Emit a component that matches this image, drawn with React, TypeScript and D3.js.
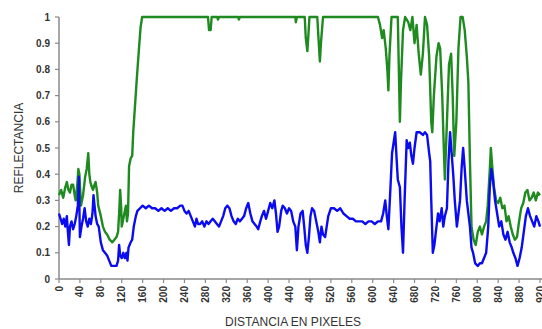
import React from 'react';
import * as d3 from 'd3';

// distancia (pixeles) y reflectancia
const greenDist = [0, 4, 8, 12, 15, 18, 21, 24, 27, 30, 32, 35, 37, 39, 42, 46, 50, 53, 56, 58, 60, 63, 65, 68, 70, 73, 75, 80, 84, 88, 92, 97, 102, 106, 110, 113, 115, 117, 119, 120, 123, 126, 128, 130, 132, 134, 137, 140, 142, 145, 149, 153, 156, 159, 285, 287, 290, 292, 303, 304, 306, 343, 344, 346, 452, 453, 455, 470, 472, 475, 477, 479, 494, 496, 499, 501, 503, 505, 610, 614, 618, 621, 625, 628, 630, 632, 636, 648, 650, 652, 654, 658, 662, 668, 672, 676, 680, 684, 688, 692, 696, 700, 704, 708, 712, 714, 717, 722, 726, 729, 733, 736, 738, 742, 746, 750, 753, 756, 760, 764, 768, 772, 776, 780, 783, 786, 789, 793, 797, 801, 805, 809, 813, 817, 820, 824, 826, 829, 832, 836, 840, 844, 848, 852, 856, 860, 864, 868, 872, 876, 880, 884, 888, 892, 896, 900, 904, 908, 912, 916, 920];
const greenVals = [0.32, 0.34, 0.31, 0.35, 0.37, 0.34, 0.33, 0.36, 0.36, 0.32, 0.3, 0.36, 0.42, 0.4, 0.28, 0.32, 0.39, 0.42, 0.48, 0.4, 0.37, 0.35, 0.34, 0.36, 0.37, 0.33, 0.28, 0.24, 0.2, 0.18, 0.17, 0.15, 0.14, 0.15, 0.16, 0.18, 0.25, 0.34, 0.27, 0.2, 0.23, 0.26, 0.28, 0.22, 0.25, 0.43, 0.46, 0.47, 0.56, 0.65, 0.77, 0.88, 0.96, 1, 1, 0.95, 0.95, 1, 1, 0.99, 1, 1, 0.99, 1, 1, 0.98, 1, 1, 0.92, 0.87, 0.93, 1, 1, 0.93, 0.83, 0.9, 0.95, 1, 1, 0.97, 0.92, 0.95, 0.88, 0.8, 0.72, 0.85, 1, 1, 0.8, 0.6, 0.75, 0.95, 1, 0.98, 0.95, 1, 0.9, 0.97, 0.86, 0.78, 0.86, 1, 0.97, 0.85, 0.6, 0.56, 0.7, 0.85, 0.9, 0.88, 0.7, 0.5, 0.38, 0.6, 0.82, 0.86, 0.7, 0.47, 0.6, 0.88, 1, 1, 0.95, 0.85, 0.75, 0.45, 0.2, 0.15, 0.13, 0.18, 0.2, 0.17, 0.2, 0.22, 0.28, 0.42, 0.5, 0.42, 0.35, 0.3, 0.29, 0.31, 0.27, 0.28, 0.22, 0.24, 0.2, 0.17, 0.15, 0.16, 0.22, 0.27, 0.29, 0.33, 0.34, 0.3, 0.31, 0.33, 0.3, 0.33, 0.32];

const blueDist = [0, 3, 6, 9, 12, 15, 17, 19, 21, 24, 27, 30, 33, 36, 38, 40, 43, 46, 49, 52, 55, 58, 61, 64, 66, 68, 70, 73, 76, 80, 84, 88, 92, 96, 100, 105, 110, 113, 115, 117, 120, 123, 126, 129, 131, 133, 137, 140, 143, 147, 150, 155, 160, 166, 172, 178, 184, 190, 196, 202, 208, 214, 220, 226, 232, 236, 240, 244, 248, 252, 256, 260, 263, 266, 270, 274, 278, 282, 286, 290, 294, 298, 302, 306, 310, 314, 318, 322, 326, 330, 334, 338, 342, 346, 350, 354, 358, 362, 366, 370, 374, 378, 381, 385, 388, 392, 396, 400, 404, 408, 412, 415, 418, 421, 425, 428, 432, 436, 440, 444, 448, 452, 455, 458, 462, 466, 469, 472, 475, 478, 481, 484, 488, 492, 496, 499, 502, 505, 509, 512, 515, 520, 526, 532, 538, 544, 550, 556, 562, 568, 574, 580, 586, 592, 598, 604, 610, 616, 620, 624, 627, 630, 634, 637, 640, 643, 646, 648, 652, 655, 658, 661, 665, 668, 671, 674, 677, 680, 684, 690, 696, 700, 704, 708, 710, 712, 715, 718, 722, 725, 728, 732, 735, 738, 742, 745, 748, 751, 754, 757, 761, 764, 767, 770, 773, 776, 780, 783, 786, 789, 792, 796, 801, 805, 809, 813, 817, 821, 824, 827, 830, 834, 838, 842, 846, 850, 854, 858, 862, 866, 869, 873, 877, 881, 885, 889, 893, 897, 901, 905, 909, 913, 917, 920];
const blueVals = [0.25, 0.23, 0.21, 0.23, 0.2, 0.24, 0.18, 0.13, 0.2, 0.22, 0.19, 0.21, 0.24, 0.28, 0.39, 0.16, 0.2, 0.23, 0.27, 0.22, 0.2, 0.23, 0.21, 0.25, 0.32, 0.28, 0.24, 0.21, 0.2, 0.14, 0.11, 0.1, 0.09, 0.07, 0.05, 0.05, 0.05, 0.07, 0.13, 0.09, 0.08, 0.1, 0.08, 0.1, 0.07, 0.12, 0.14, 0.15, 0.2, 0.24, 0.26, 0.27, 0.28, 0.27, 0.28, 0.27, 0.27, 0.26, 0.27, 0.26, 0.27, 0.26, 0.27, 0.27, 0.28, 0.28, 0.26, 0.25, 0.26, 0.24, 0.22, 0.2, 0.23, 0.21, 0.21, 0.22, 0.2, 0.22, 0.21, 0.22, 0.23, 0.22, 0.21, 0.2, 0.22, 0.24, 0.27, 0.28, 0.27, 0.24, 0.22, 0.21, 0.23, 0.22, 0.23, 0.24, 0.27, 0.29, 0.25, 0.22, 0.21, 0.2, 0.19, 0.22, 0.24, 0.26, 0.23, 0.26, 0.29, 0.27, 0.3, 0.25, 0.18, 0.2, 0.26, 0.28, 0.27, 0.25, 0.27, 0.26, 0.22, 0.2, 0.11, 0.2, 0.25, 0.26, 0.2, 0.13, 0.1, 0.16, 0.24, 0.27, 0.26, 0.22, 0.18, 0.14, 0.2, 0.17, 0.16, 0.2, 0.24, 0.27, 0.27, 0.26, 0.27, 0.25, 0.24, 0.23, 0.23, 0.22, 0.22, 0.22, 0.21, 0.22, 0.22, 0.21, 0.22, 0.22, 0.25, 0.3, 0.24, 0.19, 0.35, 0.48, 0.52, 0.56, 0.45, 0.38, 0.35, 0.2, 0.1, 0.3, 0.53, 0.5, 0.52, 0.47, 0.44, 0.5, 0.56, 0.56, 0.55, 0.56, 0.55, 0.48, 0.45, 0.3, 0.1, 0.13, 0.2, 0.25, 0.22, 0.27, 0.2, 0.24, 0.27, 0.45, 0.56, 0.48, 0.4, 0.3, 0.2, 0.25, 0.3, 0.42, 0.5, 0.42, 0.3, 0.25, 0.2, 0.12, 0.1, 0.06, 0.05, 0.06, 0.06, 0.08, 0.1, 0.2, 0.35, 0.42, 0.38, 0.3, 0.25, 0.2, 0.22, 0.17, 0.15, 0.18, 0.14, 0.12, 0.1, 0.08, 0.05, 0.08, 0.12, 0.18, 0.24, 0.27, 0.24, 0.22, 0.2, 0.24, 0.22, 0.2];

const xTicks = d3.range(0, 921, 40);
const yTicks = [0, 0.1, 0.2, 0.3, 0.4, 0.5, 0.6, 0.7, 0.8, 0.9, 1];

const width = 542;
const height = 329;
const margin = { left: 59, top: 17, bottom: 50 };

export default function App() {
  const x = d3.scaleLinear().domain([0, 920]).range([margin.left, 540]);
  const y = d3.scaleLinear().domain([0, 1]).range([height - margin.bottom, margin.top]);

  const makePath = (xs: number[], vs: number[]) =>
    d3
      .line<[number, number]>()
      .x((d) => x(d[0]))
      .y((d) => y(d[1]))(xs.map((d, i) => [d, vs[i]] as [number, number])) || '';

  const font = '"Liberation Sans", Arial, sans-serif';
  const axisColor = '#8a8a8a';
  const textColor = '#333';

  return (
    <svg
      width={width}
      height={height}
      style={{ position: 'absolute', left: 0, top: 0, background: '#fff' }}
    >
      <rect width={width} height={height} fill="#fff" />

      {/* eje Y */}
      <line x1={x(0)} x2={x(0)} y1={y(0)} y2={y(1)} stroke={axisColor} strokeWidth={1.5} />
      {yTicks.map((t) => (
        <g key={t}>
          <line x1={x(0) - 4} x2={x(0)} y1={y(t)} y2={y(t)} stroke={axisColor} strokeWidth={1.2} />
          <text
            x={x(0) - 9}
            y={y(t)}
            dy="0.35em"
            textAnchor="end"
            fontFamily={font}
            fontSize={10}
            fontWeight="bold"
            fill={textColor}
          >
            {t}
          </text>
        </g>
      ))}

      {/* eje X */}
      <line x1={x(0)} x2={width} y1={y(0)} y2={y(0)} stroke={axisColor} strokeWidth={1.5} />
      {xTicks.map((t) => (
        <g key={t}>
          <line x1={x(t)} x2={x(t)} y1={y(0)} y2={y(0) + 4} stroke={axisColor} strokeWidth={1.2} />
          <text
            transform={`translate(${x(t)},${y(0) + 7}) rotate(-90)`}
            dy="0.35em"
            textAnchor="end"
            fontFamily={font}
            fontSize={10}
            fontWeight="bold"
            fill={textColor}
          >
            {t}
          </text>
        </g>
      ))}

      {/* series */}
      <path d={makePath(greenDist, greenVals)} fill="none" stroke="#1f8a1f" strokeWidth={2.4} strokeLinejoin="round" />
      <path d={makePath(blueDist, blueVals)} fill="none" stroke="#0b0bf2" strokeWidth={2.4} strokeLinejoin="round" />

      {/* titulos de ejes */}
      <text
        transform={`translate(23,${(y(0) + y(1)) / 2}) rotate(-90)`}
        textAnchor="middle"
        fontFamily={font}
        fontSize={12}
        fill={textColor}
      >
        REFLECTANCIA
      </text>
      <text x={293} y={326} textAnchor="middle" fontFamily={font} fontSize={12} fill={textColor}>
        DISTANCIA EN PIXELES
      </text>
    </svg>
  );
}
